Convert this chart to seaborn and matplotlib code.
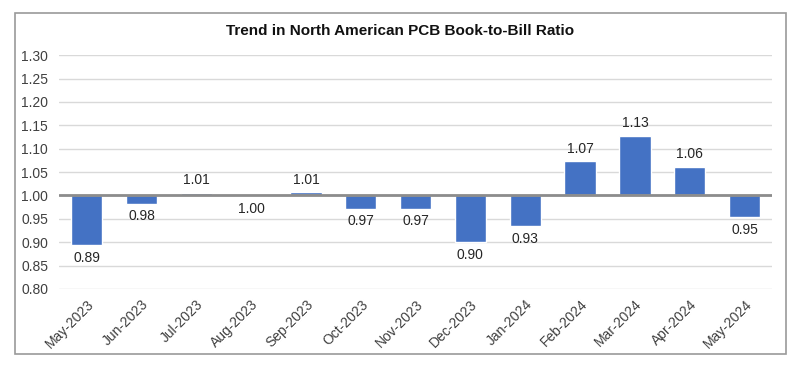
import matplotlib
matplotlib.use("Agg")
import matplotlib.pyplot as plt
from matplotlib.patches import Rectangle
from matplotlib.ticker import FuncFormatter
import seaborn as sns
import pandas as pd

months = ["May-2023", "Jun-2023", "Jul-2023", "Aug-2023", "Sep-2023", "Oct-2023",
          "Nov-2023", "Dec-2023", "Jan-2024", "Feb-2024", "Mar-2024", "Apr-2024",
          "May-2024"]
ratios = [0.893, 0.982, 1.006, 0.998, 1.007, 0.972, 0.972, 0.900, 0.934,
          1.073, 1.128, 1.061, 0.954]
baseline = 1.0
y_ticks = [0.80, 0.85, 0.90, 0.95, 1.00, 1.05, 1.10, 1.15, 1.20, 1.25, 1.30]

sns.set_style("white")
plt.rcParams["font.family"] = ["Liberation Sans", "DejaVu Sans"]

# bars hang from 1.00, so plot the deviation and relabel the axis
df = pd.DataFrame({"month": months, "dev": [r - baseline for r in ratios]})

fig = plt.figure(figsize=(8, 3.7), dpi=100)
ax = fig.add_axes([0.074, 0.219, 0.891, 0.632])

sns.barplot(data=df, x="month", y="dev", color="#4472C4", saturation=1,
            width=0.57, ax=ax, zorder=3)

ax.set_ylim(y_ticks[0] - baseline, y_ticks[-1] - baseline)
ax.set_yticks([t - baseline for t in y_ticks])
ax.yaxis.set_major_formatter(FuncFormatter(lambda v, p: f"{v + baseline:.2f}"))
ax.grid(axis="y", color="#d9d9d9", linewidth=1, zorder=0)
ax.axhline(0, color="#8c8c8c", linewidth=2, zorder=4)
for s in ax.spines.values():
    s.set_visible(False)
ax.set_xlim(-0.5, len(months) - 0.5)
ax.set_xlabel("")
ax.set_ylabel("")
ax.tick_params(axis="both", length=0, labelsize=10, colors="#404040")
ax.tick_params(axis="y", pad=8)
ax.tick_params(axis="x", pad=6)
plt.setp(ax.get_xticklabels(), rotation=45, ha="right", rotation_mode="anchor")

ax.bar_label(ax.containers[0], labels=[f"{r:.2f}" for r in ratios],
             padding=4, fontsize=10, color="#262626")

fig.text(0.5, 0.915, "Trend in North American PCB Book-to-Bill Ratio",
         ha="center", va="center", fontsize=11, fontweight="bold", color="#111111")

fig.patches.append(Rectangle((15 / 800, 1 - 354 / 370), 771 / 800, 341 / 370,
                             transform=fig.transFigure, fill=False,
                             edgecolor="#9a9a9a", linewidth=1.2))

fig.savefig("out.png", dpi=100)
plt.close(fig)
